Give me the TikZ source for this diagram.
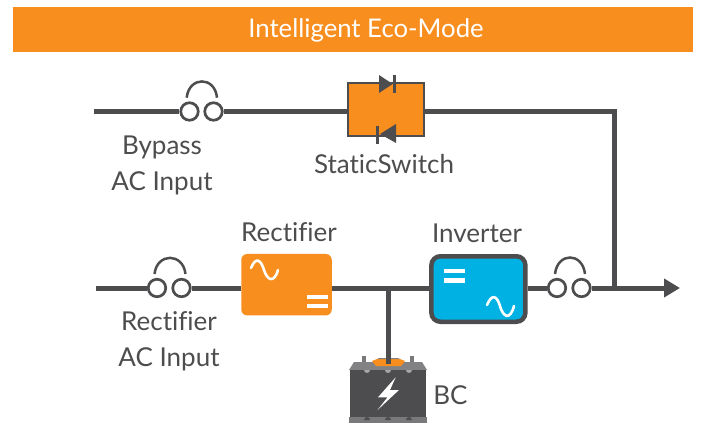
\documentclass[tikz,border=0pt]{standalone}
\usepackage{fontspec}
\setmainfont[Ligatures=NoCommon]{Lato}
\usetikzlibrary{arrows.meta}
\definecolor{wire}{HTML}{4D4D4F}
\definecolor{ecoorange}{HTML}{F78E1E}
\definecolor{invblue}{HTML}{00B2E3}
\tikzset{
    wireline/.style={draw=wire,line width=5pt},
    fuse/.style={circle,draw=wire,fill=white,line width=2.7pt,minimum size=17.5pt,inner sep=0pt},
    fusearc/.style={draw=wire,line width=2.5pt},
    label/.style={text=wire,font=\fontsize{26}{36}\selectfont,align=center,inner sep=0pt},
    whitebar/.style={fill=white,draw=none},
    sinewave/.style={draw=white,line width=2.6pt,line cap=round}
}
\begin{document}
\begin{tikzpicture}[x=1pt,y=-1pt]
    \useasboundingbox (0,0) rectangle (701,425);

    \node[fill=ecoorange,minimum width=680pt,minimum height=45pt,inner sep=0pt] (banner) at (353,29.5) {};
    \node[text=white,font=\fontsize{25.7}{28}\selectfont,inner sep=0pt] (title) at (366,30) {Intelligent Eco-Mode};

    % upper path
    \coordinate (bypassin) at (94,111.5);
    \node[fuse] (bypassA) at (189.5,111.5) {};
    \node[fuse] (bypassB) at (213.5,111.5) {};
    \node[draw=wire,fill=ecoorange,line width=2.5pt,minimum width=76pt,minimum height=53pt,inner sep=0pt] (switch) at (386,109.5) {};

    % lower path
    \coordinate (rectin) at (96,288);
    \node[fuse] (rectA) at (157,288) {};
    \node[fuse] (rectB) at (181.5,288) {};
    \node[fill=ecoorange,rounded corners=6pt,minimum width=90.5pt,minimum height=61.5pt,inner sep=0pt] (rectifier) at (286.5,284.7) {};
    \node[draw=wire,fill=invblue,rounded corners=9pt,line width=4.5pt,minimum width=94pt,minimum height=65.5pt,inner sep=0pt] (inverter) at (478.4,289) {};
    \node[fuse] (outA) at (557,288) {};
    \node[fuse] (outB) at (581.5,288) {};
    \coordinate (join) at (614,288);
    \coordinate (out) at (680,288);
    \coordinate (tap) at (388,288);

    \draw[fusearc] (186.7,97.7) .. controls (189,76) and (215,76) .. (217,97.7);
    \draw[fusearc] (154.5,274) .. controls (157,252.5) and (183,252.5) .. (185.5,274);
    \draw[fusearc] (555,274) .. controls (557.5,252) and (582.5,252) .. (585,274);

    % battery
    \fill[wire!75] (362,356) rectangle (366,363);
    \fill[wire!75] (410,356) rectangle (414,363);
    \fill[wire!70] (349,370) -- (354,362) -- (422,362) -- (427,370) -- cycle;
    \fill[ecoorange] (372,361) -- (377,359) -- (400,359) -- (405,361) -- (401,366) -- (376,366) -- cycle;
    \fill[wire!70] (377,359) -- (379,358) -- (398,358) -- (400,359) -- cycle;
    \node[fill=wire,minimum width=76pt,minimum height=47pt,inner sep=0pt] (battery) at (388,393.5) {};
    \fill[wire!75] (349,417) rectangle (427,423);
    \foreach \x in {367,388,409}{
        \fill[wire!50] (\x,370) ++(-3,0) arc[start angle=180,end angle=360,x radius=3,y radius=-3] -- cycle;
        \fill[wire] (\x,420) ++(-3,0) arc[start angle=180,end angle=360,x radius=3,y radius=3] -- cycle;
    }
    \fill[white] (395.7,377.3) -- (378,397.3) -- (387.5,397.3) -- (377.5,410) -- (399,390) -- (390,390) -- cycle;

    % connectors
    \draw[wireline] (bypassin) -- (bypassA);
    \draw[wireline] (bypassB) -- (bypassB -| switch.west);
    \draw[wireline] (bypassB -| switch.east) -| (join);
    \draw[wireline] (rectin) -- (rectA);
    \draw[wireline] (rectB) -- (rectB -| rectifier.west);
    \draw[wireline] (rectB -| rectifier.east) -- (rectB -| inverter.west);
    \draw[wireline] (rectB -| inverter.east) -- (outA);
    \draw[wireline,-{Triangle[length=16pt,width=18pt]}] (outB) -- (out);
    \draw[wireline,shorten >=6pt] (tap) -- (battery.north);

    % switch diodes
    \fill[wire] (379,75) -- (379,93) -- (392.7,84) -- cycle;
    \draw[wire,line width=2.5pt] (394.7,75) -- (394.7,93);
    \fill[wire] (396,124) -- (396,143) -- (380,134) -- cycle;
    \draw[wire,line width=2.5pt] (377.5,126) -- (377.5,144);

    % rectifier symbols
    \draw[sinewave] (251,268) .. controls (256,256) and (261,260) .. (264,270) .. controls (267,280) and (274,284) .. (278,270);
    \fill[whitebar] (307,295) rectangle (328,298.5);
    \fill[whitebar] (307,304) rectangle (328,307.5);

    % inverter symbols
    \fill[whitebar] (444,268.5) rectangle (465,273);
    \fill[whitebar] (444,278) rectangle (465,282.5);
    \draw[sinewave] (487,305) .. controls (492,293) and (497,296) .. (500,306) .. controls (503,317) and (510,321) .. (514,306);

    % labels
    \node[label] (bypasslabel) at (162,165.5) {Bypass\\AC Input};
    \node[label] (switchlabel) at (384,164) {StaticSwitch};
    \node[label] (rectifierlabel) at (289,232.5) {Rectifier};
    \node[label] (inverterlabel) at (477,233) {Inverter};
    \node[label] (rectinlabel) at (169,341.5) {Rectifier\\AC Input};
    \node[label] (bclabel) at (450.5,395) {BC};
\end{tikzpicture}
\end{document}
